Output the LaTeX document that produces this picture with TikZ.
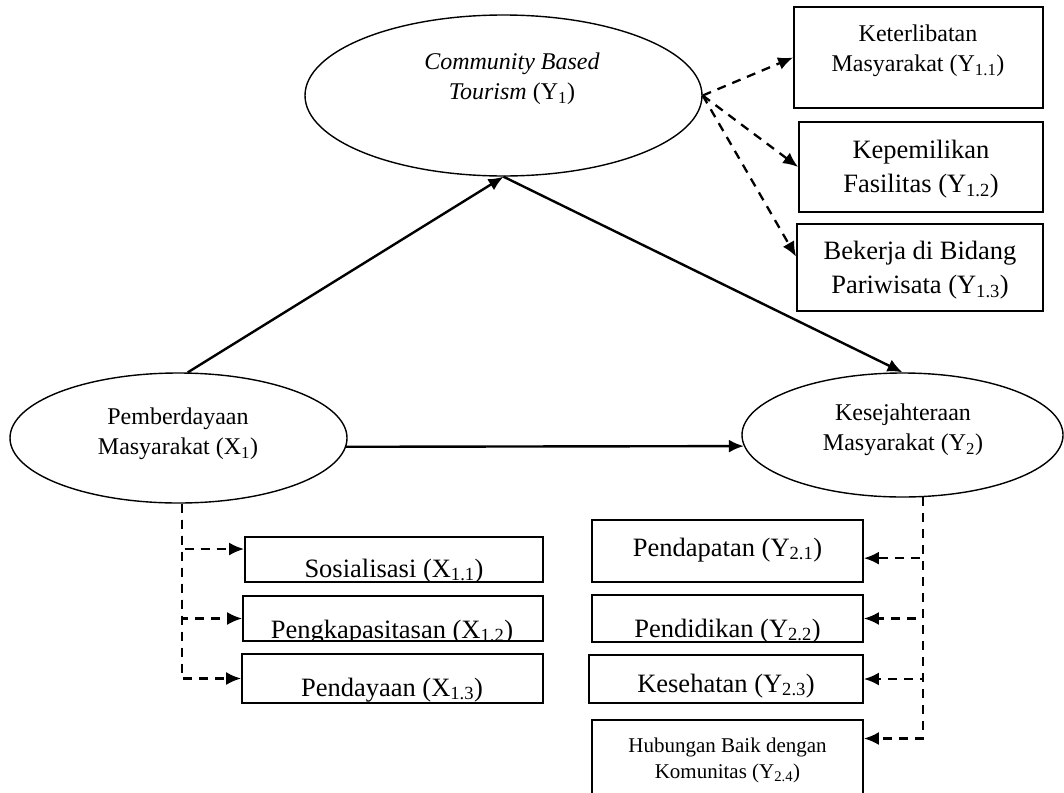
\documentclass[tikz,border=0pt]{standalone}
\usepackage{fontspec}
\setmainfont{Liberation Serif}
\usetikzlibrary{shapes.geometric,arrows.meta}

\begin{document}
\begin{tikzpicture}[x=1pt, y=-1pt,
    >={Latex[length=15pt,width=13pt]},   %Pfeilspitzen
    latent/.style={draw, ellipse, line width=1.4pt, inner sep=0pt},
    kasten/.style={draw, rectangle, line width=1.8pt, inner sep=0pt},
    pfeil/.style={->, line width=2.4pt},
    gestr/.style={->, line width=2.3pt, dash pattern=on 9pt off 7pt},
    mittel/.style={align=center, font=\fontsize{24}{30}\selectfont},
    gross/.style={align=center, font=\fontsize{26.5}{34}\selectfont},
    klein/.style={align=center, font=\fontsize{21}{26}\selectfont}]
    %Bildbereich
    \useasboundingbox (0,0) rectangle (1064,792);
    \clip (0,0) rectangle (1064,792);
    % Ellipsen zeichnen
    \node[latent, minimum width=397pt, minimum height=161pt] (y1) at (503.5,95.5) {};
    \node[latent, minimum width=337pt, minimum height=130pt] (x1) at (178.5,438) {};
    \node[latent, minimum width=321pt, minimum height=124pt] (y2) at (902.5,435) {};
    \node[mittel] (y1t) at (512,79) {\textit{Community Based}\\\textit{Tourism} (Y\textsubscript{1})};
    \node[mittel] (x1t) at (178,434) {Pemberdayaan\\Masyarakat (X\textsubscript{1})};
    \node[mittel] (y2t) at (903,430) {Kesejahteraan\\Masyarakat (Y\textsubscript{2})};
    % Kaesten zeichnen
    \node[kasten, minimum width=249pt, minimum height=101pt] (y11) at (918.5,57.5) {};
    \node[kasten, minimum width=244pt, minimum height=90pt] (y12) at (921,167) {};
    \node[kasten, minimum width=246pt, minimum height=87pt] (y13) at (920,267.5) {};
    \node[kasten, minimum width=298pt, minimum height=45pt] (x11) at (394,559.5) {};
    \node[kasten, minimum width=300pt, minimum height=45pt] (x12) at (393,618.5) {};
    \node[kasten, minimum width=301pt, minimum height=49pt] (x13) at (392.5,678.5) {};
    \node[kasten, minimum width=271pt, minimum height=62pt] (y21) at (727.5,551) {};
    \node[kasten, minimum width=271pt, minimum height=47pt] (y22) at (727.5,618.5) {};
    \node[kasten, minimum width=274pt, minimum height=48pt] (y23) at (726,679) {};
    \node[kasten, minimum width=271pt, minimum height=100pt] (y24) at (727.5,770) {};
    % Beschriftung der Kaesten (abgeschnitten wie im Original)
    \begin{scope}
        \clip (y11.south west) rectangle (y11.north east) (y12.south west) rectangle (y12.north east)
              (y13.south west) rectangle (y13.north east) (x11.south west) rectangle (x11.north east)
              (x12.south west) rectangle (x12.north east) (x13.south west) rectangle (x13.north east)
              (y21.south west) rectangle (y21.north east) (y22.south west) rectangle (y22.north east)
              (y23.south west) rectangle (y23.north east) (y24.south west) rectangle (y24.north east);
        \node[mittel] (y11t) at (918,51) {Keterlibatan\\Masyarakat (Y\textsubscript{1.1})};
        \node[gross] (y12t) at (921,169) {Kepemilikan\\Fasilitas (Y\textsubscript{1.2})};
        \node[gross] (y13t) at (920,270) {Bekerja di Bidang\\Pariwisata (Y\textsubscript{1.3})};
        \node[gross, anchor=base] (x11t) at (394,577) {Sosialisasi (X\textsubscript{1.1})};
        \node[gross, anchor=base] (x12t) at (392,638) {Pengkapasitasan (X\textsubscript{1.2})};
        \node[gross, anchor=base] (x13t) at (392,696) {Pendayaan (X\textsubscript{1.3})};
        \node[gross, anchor=base] (y21t) at (727.5,556) {Pendapatan (Y\textsubscript{2.1})};
        \node[gross, anchor=base] (y22t) at (727.5,637) {Pendidikan (Y\textsubscript{2.2})};
        \node[gross, anchor=base] (y23t) at (726,692) {Kesehatan (Y\textsubscript{2.3})};
        \node[klein] (y24t) at (727.5,760) {Hubungan Baik dengan\\Komunitas (Y\textsubscript{2.4})};
    \end{scope}
    % Strukturpfade
    \draw[pfeil] (x1.82) -- (y1.south);
    \draw[pfeil] (y1.south) -- (y2.north);
    \draw[pfeil] (x1.-3) -- (y2.184);
    % Indikatoren Y1
    \draw[gestr] (y1.east) -- (y11.west);
    \draw[gestr] (y1.east) -- (y12.west);
    \draw[gestr] (y1.east) -- (y13.175);
    % Indikatoren X1
    \draw[gestr] (x1.-87) |- (x11.176);
    \draw[gestr] (x1.-87) |- (x12.west);
    \draw[gestr] (x1.-87) |- (x13.west);
    % Indikatoren Y2
    \draw[gestr] (y2.-72) |- (y21.-3);
    \draw[gestr] (y2.-72) |- (y22.east);
    \draw[gestr] (y2.-72) |- (y23.east);
    \draw[gestr] (y2.-72) |- (y24.13);
\end{tikzpicture}
\end{document}
